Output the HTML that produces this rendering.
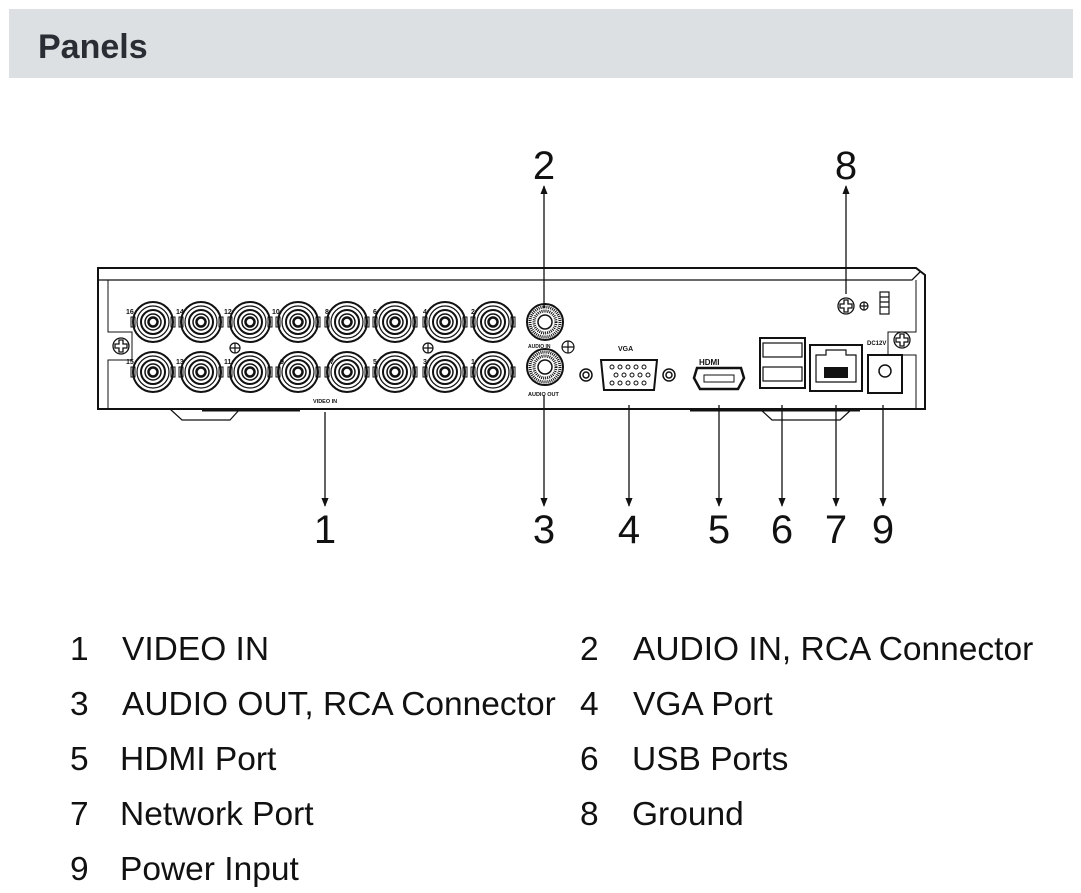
<!DOCTYPE html>
<html><head><meta charset="utf-8"><style>
body{margin:0;background:#fff;width:1081px;height:893px;overflow:hidden}
svg{display:block}
</style></head><body>
<svg width="1081" height="893" viewBox="0 0 1081 893" xmlns="http://www.w3.org/2000/svg" font-family="Liberation Sans, sans-serif">
<defs>
<g id="bnc" fill="none" stroke="#111">
<circle r="20" stroke-width="2"/><circle r="16" stroke-width="1.2"/><circle r="12" stroke-width="2"/><circle r="8" stroke-width="1.5"/><circle r="4.5" stroke-width="2.5"/>
<rect x="-22" y="-5" width="4" height="10" stroke-width="1"/><rect x="18" y="-5" width="4" height="10" stroke-width="1"/>
</g>
<g id="rca" fill="none" stroke="#111">
<circle r="18" stroke-width="2"/><circle r="15" stroke-width="3" stroke-dasharray="1 1"/><circle r="11" stroke-width="3" stroke-dasharray="1 1"/><circle r="7" stroke-width="1.5"/>
</g>
<g id="screw" fill="none" stroke="#111" stroke-width="1.3"><circle r="8"/><path d="M-2-6h4v4h4v4h-4v4h-4v-4h-4v-4h4z"/></g>
<marker id="ah" viewBox="0 0 10 10" refX="9" refY="5" markerWidth="7" markerHeight="9" orient="auto"><path d="M0 1L10 5L0 9z" fill="#111"/></marker>
</defs>
<rect x="9" y="9" width="1064" height="69" fill="#dce0e3"/>
<text x="38" y="58" font-size="34" font-weight="bold" fill="#2a2d33">Panels</text>

<g fill="none" stroke="#111">
<path d="M98 409V268H916L925 275V409Z" stroke-width="2"/>
<path d="M98 280H912L920 272" stroke-width="1.3"/>
<path d="M108 280V332H132V360H108V409" stroke-width="1"/>
<path d="M916 280V332H888V355H916V409" stroke-width="1"/>
<path d="M170 409L182 420H230L240 409" stroke-width="1.2"/>
<path d="M760 409L772 420H840L852 409" stroke-width="1.2"/>
<path d="M202 410H300M690 410H860" stroke-width="3"/>
</g>
<use href="#screw" x="121" y="346"/><use href="#screw" x="902" y="340"/><use href="#screw" x="846" y="306"/>
<g fill="none" stroke="#111" stroke-width="1.2"><circle cx="864" cy="306" r="4"/><path d="M860 306h8M864 302v8"/><circle cx="235" cy="348" r="5"/><path d="M230 348h10M235 343v10"/><circle cx="428" cy="348" r="5"/><path d="M423 348h10M428 343v10"/><circle cx="568" cy="347" r="6"/><path d="M562 347h12M568 341v12"/>
<rect x="880" y="292" width="9" height="22"/><path d="M880 297h9M880 302h9M880 307h9"/></g>
<use href="#bnc" x="153" y="322"/><use href="#bnc" x="201" y="322"/><use href="#bnc" x="250" y="322"/><use href="#bnc" x="298" y="322"/><use href="#bnc" x="347" y="322"/><use href="#bnc" x="395" y="322"/><use href="#bnc" x="445" y="322"/><use href="#bnc" x="493" y="322"/>
<use href="#bnc" x="153" y="372"/><use href="#bnc" x="201" y="372"/><use href="#bnc" x="250" y="372"/><use href="#bnc" x="298" y="372"/><use href="#bnc" x="347" y="372"/><use href="#bnc" x="395" y="372"/><use href="#bnc" x="445" y="372"/><use href="#bnc" x="493" y="372"/>
<g font-size="7" font-weight="bold" fill="#111">
<text x="126" y="314">16</text><text x="176" y="314">14</text><text x="224" y="314">12</text><text x="272" y="314">10</text><text x="325" y="314">8</text><text x="373" y="314">6</text><text x="423" y="314">4</text><text x="471" y="314">2</text>
<text x="126" y="364">15</text><text x="176" y="364">13</text><text x="224" y="364">11</text><text x="280" y="364">9</text><text x="330" y="364">7</text><text x="373" y="364">5</text><text x="423" y="364">3</text><text x="471" y="364">1</text>
<text x="313" y="403" font-size="5.5">VIDEO IN</text>
<text x="528" y="348" font-size="5">AUDIO IN</text><text x="528" y="396" font-size="5.5">AUDIO OUT</text>
<text x="618" y="351" font-size="7">VGA</text>
<text x="699" y="365" font-size="8">HDMI</text>
<text x="867" y="345" font-size="6">DC12V</text>
</g>
<use href="#rca" x="545" y="322"/><use href="#rca" x="545" y="367"/>
<g fill="none" stroke="#111" stroke-width="1.5">
<path d="M601 360H657L654 390H604Z" stroke-width="2"/>
<circle cx="586" cy="375" r="6"/><circle cx="586" cy="375" r="3"/><circle cx="669" cy="375" r="6"/><circle cx="669" cy="375" r="3"/>
<g stroke-width="1"><circle cx="612" cy="367" r="2"/><circle cx="620" cy="367" r="2"/><circle cx="628" cy="367" r="2"/><circle cx="636" cy="367" r="2"/><circle cx="644" cy="367" r="2"/><circle cx="616" cy="375" r="2"/><circle cx="624" cy="375" r="2"/><circle cx="632" cy="375" r="2"/><circle cx="640" cy="375" r="2"/><circle cx="648" cy="375" r="2"/><circle cx="612" cy="383" r="2"/><circle cx="620" cy="383" r="2"/><circle cx="628" cy="383" r="2"/><circle cx="636" cy="383" r="2"/><circle cx="644" cy="383" r="2"/></g>
<path d="M697 368H741L744 378L738 389H700L694 378Z" stroke-width="2.5"/>
<path d="M704 375H734V382H704Z" stroke-width="1"/>
<rect x="760" y="338" width="45" height="50" stroke-width="2"/>
<rect x="763" y="343" width="39" height="14" stroke-width="1.2"/><rect x="763" y="367" width="39" height="14" stroke-width="1.2"/>
<rect x="810" y="345" width="52" height="46" stroke-width="2"/>
<path d="M816 355H826V350H846V355H856V382H816Z" stroke-width="1.2"/>
<rect x="868" y="355" width="34" height="38" stroke-width="2"/><circle cx="885" cy="371" r="6"/>
</g>
<rect x="824" y="367" width="24" height="11" fill="#111"/>
<g stroke="#111" stroke-width="1.3" marker-end="url(#ah)">
<line x1="544" y1="308" x2="544" y2="186"/>
<line x1="846" y1="294" x2="846" y2="186"/>
<line x1="325" y1="412" x2="325" y2="506"/>
<line x1="544" y1="395" x2="544" y2="506"/>
<line x1="629" y1="405" x2="629" y2="506"/>
<line x1="719" y1="405" x2="719" y2="506"/>
<line x1="782" y1="405" x2="782" y2="506"/>
<line x1="836" y1="405" x2="836" y2="506"/>
<line x1="883" y1="405" x2="883" y2="506"/>
</g>
<g font-size="40" fill="#111" text-anchor="middle">
<text x="544" y="179">2</text><text x="846" y="179">8</text>
<text x="325" y="543">1</text><text x="544" y="543">3</text><text x="629" y="543">4</text><text x="719" y="543">5</text><text x="782" y="543">6</text><text x="836" y="543">7</text><text x="883" y="543">9</text>
</g>
<g font-size="33.5" fill="#111">
<text x="70" y="660">1</text><text x="122" y="660">VIDEO IN</text>
<text x="580" y="660">2</text><text x="633" y="660">AUDIO IN, RCA Connector</text>
<text x="70" y="715">3</text><text x="122" y="715">AUDIO OUT, RCA Connector</text>
<text x="580" y="715">4</text><text x="633" y="715">VGA Port</text>
<text x="70" y="770">5</text><text x="120" y="770">HDMI Port</text>
<text x="580" y="770">6</text><text x="632" y="770">USB Ports</text>
<text x="70" y="825">7</text><text x="120" y="825">Network Port</text>
<text x="580" y="825">8</text><text x="632" y="825">Ground</text>
<text x="70" y="880">9</text><text x="120" y="880">Power Input</text>
</g>
</svg>
</body></html>
